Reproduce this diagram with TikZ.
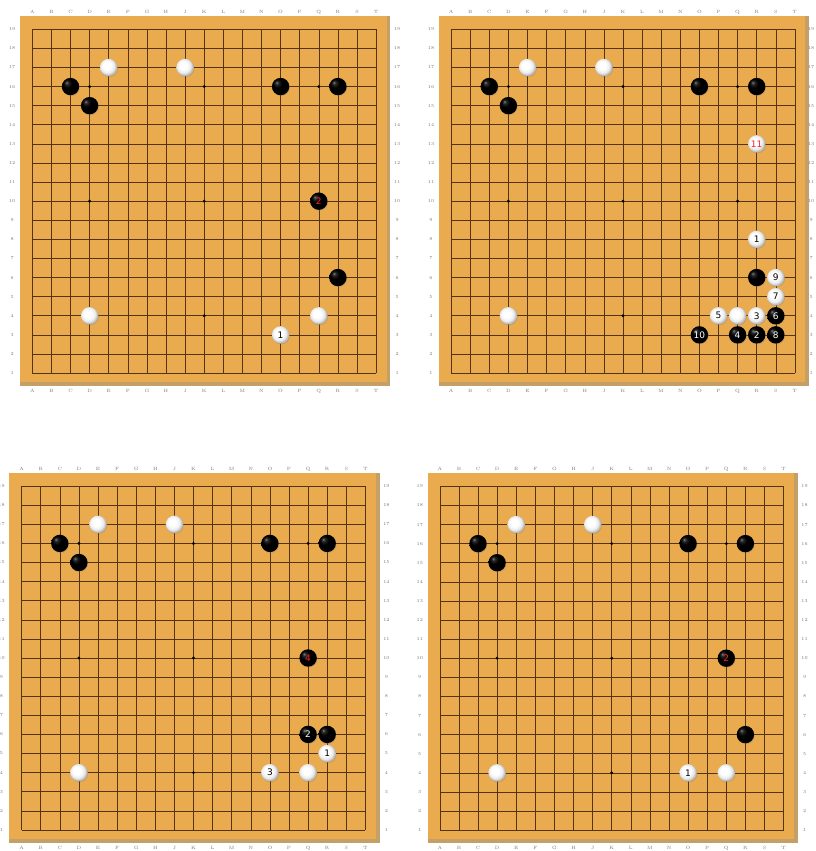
\documentclass[tikz,border=0pt]{standalone}
\usepackage{fontspec}
\setsansfont{DejaVu Sans}
\usepackage{xcolor}
\usepackage{tikz}
\usetikzlibrary{shadows}
\definecolor{goWood}{RGB}{234,170,78}
\definecolor{goEdge}{RGB}{196,160,104}
\definecolor{goLine}{RGB}{84,52,18}
\definecolor{goLabel}{RGB}{120,120,120}
\definecolor{goRed}{RGB}{245,40,40}

\pgfdeclareradialshading{wstoneshade}{\pgfpoint{-7bp}{7bp}}{color(0bp)=(white); color(11bp)=(white); color(20bp)=(black!8); color(25bp)=(black!26); color(50bp)=(black!40)}
\pgfdeclareradialshading{bstoneshade}{\pgfpoint{-12bp}{12bp}}{color(0bp)=(black!50); color(5bp)=(black!85); color(13bp)=(black); color(50bp)=(black)}

\tikzset{
  wood/.style={fill=goWood},
  gridline/.style={draw=goLine, line width=0.55pt},
  coordlbl/.style={text=goLabel, font=\fontsize{4.6}{5}\selectfont, inner sep=0pt},
  stone/.style={circle, minimum size=17.4pt, inner sep=0pt, font=\fontsize{9}{10}\selectfont\sffamily,
    drop shadow={shadow xshift=0.6pt, shadow yshift=-0.8pt, opacity=0.35}},
  bstone/.style={stone, shading=bstoneshade, text=white},
  wstone/.style={stone, shading=wstoneshade, text=black},
  redmove/.style={text=goRed}
}

% one empty board with the opening stones, #1 = name prefix, #4 = right label column
\newcommand{\goboard}[4]{%
\begin{scope}[shift={(#2,#3)}, x=19.1pt, y=19.1pt]
\fill[goEdge] (-0.64,-0.66) rectangle (18.74,18.68);
\fill[wood] (-0.64,-0.46) rectangle (18.55,18.68);
\foreach \i in {0,...,18}
{
\draw[gridline] (\i,0) -- (\i,18);
\draw[gridline] (0,\i) -- (18,\i);
}
\foreach \i in {3,9,15}
\foreach \j in {3,9,15}
{
\fill[black] (\i,\j) circle (1.6pt);
}
\foreach \c [count=\k from 0] in {A,B,C,D,E,F,G,H,J,K,L,M,N,O,P,Q,R,S,T}
{
\node[coordlbl] at (\k,18.9) {\c};
\node[coordlbl] at (\k,-0.95) {\c};
}
\foreach \r in {1,...,19}
{
\node[coordlbl] at (-1.05,\r-1) {\r};
\node[coordlbl] at (#4,\r-1) {\r};
}
\node[bstone] (#1C16) at (2,15) {};
\node[bstone] (#1D15) at (3,14) {};
\node[bstone] (#1O16) at (13,15) {};
\node[bstone] (#1R16) at (16,15) {};
\node[bstone] (#1R6) at (16,5) {};
\node[wstone] (#1E17) at (4,16) {};
\node[wstone] (#1J17) at (8,16) {};
\node[wstone] (#1D4) at (3,3) {};
\node[wstone] (#1Q4) at (15,3) {};
\end{scope}}

\begin{document}
\begin{tikzpicture}[x=1pt, y=-1pt]
\useasboundingbox[fill=white] (0,0) rectangle (815,851);
\goboard{ta}{32.3}{373.05}{19.1}
\goboard{tb}{451.1}{373.05}{18.85}
\goboard{ba}{21.6}{829.9}{19.1}
\goboard{bb}{439.8}{830.1}{19.1}
% top left
\begin{scope}[shift={(32.3,373.05)}, x=19.1pt, y=19.1pt]
\node[bstone, redmove] (taQ10) at (15,9) {2};
\node[wstone] (taO3) at (13,2) {1};
\end{scope}
% top right
\begin{scope}[shift={(451.1,373.05)}, x=19.1pt, y=19.1pt]
\node[wstone, redmove] (tbR13) at (16,12) {11};
\node[wstone] (tbR8) at (16,7) {1};
\node[wstone] (tbS6) at (17,5) {9};
\node[wstone] (tbS5) at (17,4) {7};
\node[wstone] (tbP4) at (14,3) {5};
\node[wstone] (tbR4) at (16,3) {3};
\node[bstone] (tbS4) at (17,3) {6};
\node[bstone] (tbO3) at (13,2) {10};
\node[bstone] (tbQ3) at (15,2) {4};
\node[bstone] (tbR3) at (16,2) {2};
\node[bstone] (tbS3) at (17,2) {8};
\end{scope}
% bottom left
\begin{scope}[shift={(21.6,829.9)}, x=19.1pt, y=19.1pt]
\node[bstone, redmove] (baQ10) at (15,9) {4};
\node[bstone] (baQ6) at (15,5) {2};
\node[wstone] (baR5) at (16,4) {1};
\node[wstone] (baO4) at (13,3) {3};
\end{scope}
% bottom right
\begin{scope}[shift={(439.8,830.1)}, x=19.1pt, y=19.1pt]
\node[bstone, redmove] (bbQ10) at (15,9) {2};
\node[wstone] (bbO4) at (13,3) {1};
\end{scope}
\end{tikzpicture}
\end{document}
